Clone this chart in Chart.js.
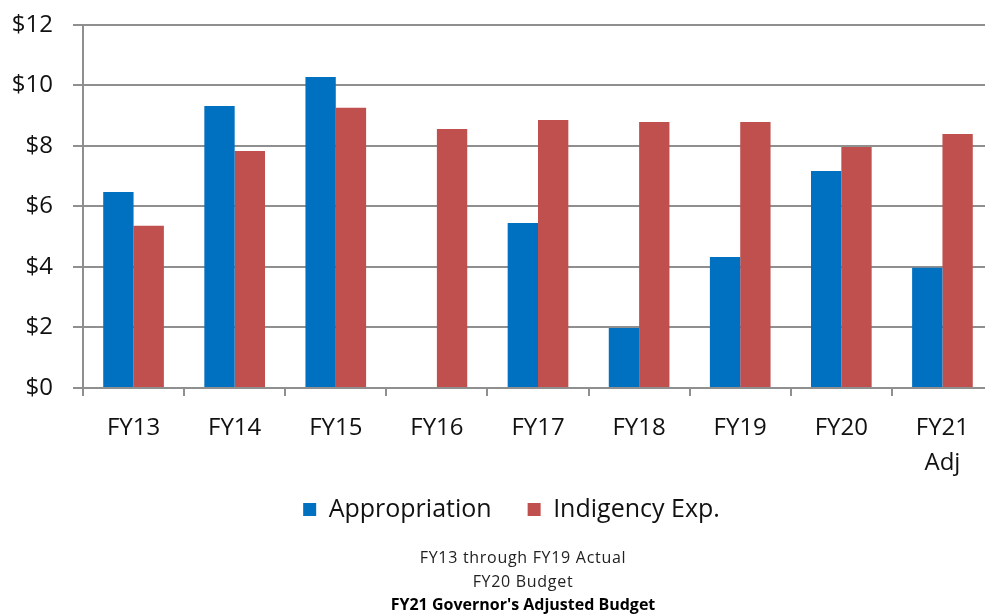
<!DOCTYPE html>
<html lang="en">
<head>
    <meta charset="UTF-8">
    <title>Appropriation vs Indigency Expenditure</title>
    <script src="https://cdn.jsdelivr.net/npm/chart.js"></script>
    <style>
        body {
            margin: 0;
            background: white;
            overflow: hidden;
            font-family: "Open Sans", sans-serif;
        }
        .chart-box {
            position: absolute;
            left: 0;
            top: 0;
            width: 1000px;
            height: 567px;
        }
        .notes {
            position: absolute;
            left: 273px;
            top: 546px;
            width: 500px;
            text-align: center;
            font-size: 16px;
            letter-spacing: 0.7px;
            line-height: 23.5px;
            color: #222;
        }
        .notes b { font-weight: bold; color: #000; letter-spacing: 0; }
    </style>
</head>
<body>
    <div class="chart-box"><canvas id="budgetChart"></canvas></div>
    <div class="notes">
        FY13 through FY19 Actual<br>
        FY20 Budget<br>
        <b>FY21 Governor's Adjusted Budget</b>
    </div>

    <script>
        // values in $ millions
        const years = ['FY13', 'FY14', 'FY15', 'FY16', 'FY17', 'FY18', 'FY19', 'FY20', ['FY21', 'Adj']];
        const appropriation = [6.48, 9.32, 10.28, 0, 5.45, 1.98, 4.33, 7.17, 3.97];
        const indigency = [5.36, 7.83, 9.26, 8.56, 8.86, 8.79, 8.79, 7.97, 8.40];
        const yTicks = [0, 2, 4, 6, 8, 10, 12];

        const gridGray = '#8f8f8f';

        // the legend sits tighter under the axis than labels.padding allows
        const nudgeLegend = {
            id: 'nudgeLegend',
            afterLayout(chart) {
                const lg = chart.legend;
                lg.top -= 35; lg.bottom -= 35;
                lg.left += 9; lg.right += 9;
            }
        };

        new Chart(document.getElementById('budgetChart'), {
            type: 'bar',
            data: {
                labels: years,
                datasets: [
                    { label: 'Appropriation', data: appropriation, backgroundColor: '#0070C0' },
                    { label: 'Indigency Exp.', data: indigency, backgroundColor: '#C0504D' }
                ]
            },
            plugins: [nudgeLegend],
            options: {
                responsive: true,
                maintainAspectRatio: false,
                animation: false,
                layout: { padding: { top: 0, right: 7, left: 12, bottom: 0 } },
                datasets: {
                    bar: { categoryPercentage: 0.6, barPercentage: 1.0 }
                },
                plugins: {
                    tooltip: { enabled: false },
                    legend: {
                        position: 'bottom',
                        labels: {
                            boxWidth: 13,
                            boxHeight: 13,
                            padding: 36,
                            color: '#111',
                            font: { family: 'Open Sans', size: 25 }
                        }
                    }
                },
                scales: {
                    x: {
                        grid: {
                            offset: true,
                            drawOnChartArea: false,
                            tickLength: 8,
                            color: gridGray,
                            lineWidth: 2
                        },
                        border: { color: gridGray, width: 2 },
                        ticks: {
                            color: '#111',
                            padding: 15,
                            font: { family: 'Open Sans', size: 24, lineHeight: 1.46 },
                            maxRotation: 0
                        }
                    },
                    y: {
                        min: 0,
                        max: 12,
                        afterFit: axis => {
                            axis.width = 71;
                            axis.paddingTop = 25;
                        },
                        afterBuildTicks: axis => {
                            axis.ticks = yTicks.map(v => ({ value: v }));
                        },
                        grid: {
                            color: gridGray,
                            lineWidth: 2,
                            tickLength: 10
                        },
                        border: { color: gridGray, width: 2 },
                        ticks: {
                            color: '#111',
                            padding: 20,
                            font: { family: 'Open Sans', size: 24 },
                            callback: v => '$' + v
                        }
                    }
                }
            }
        });
    </script>
</body>
</html>
